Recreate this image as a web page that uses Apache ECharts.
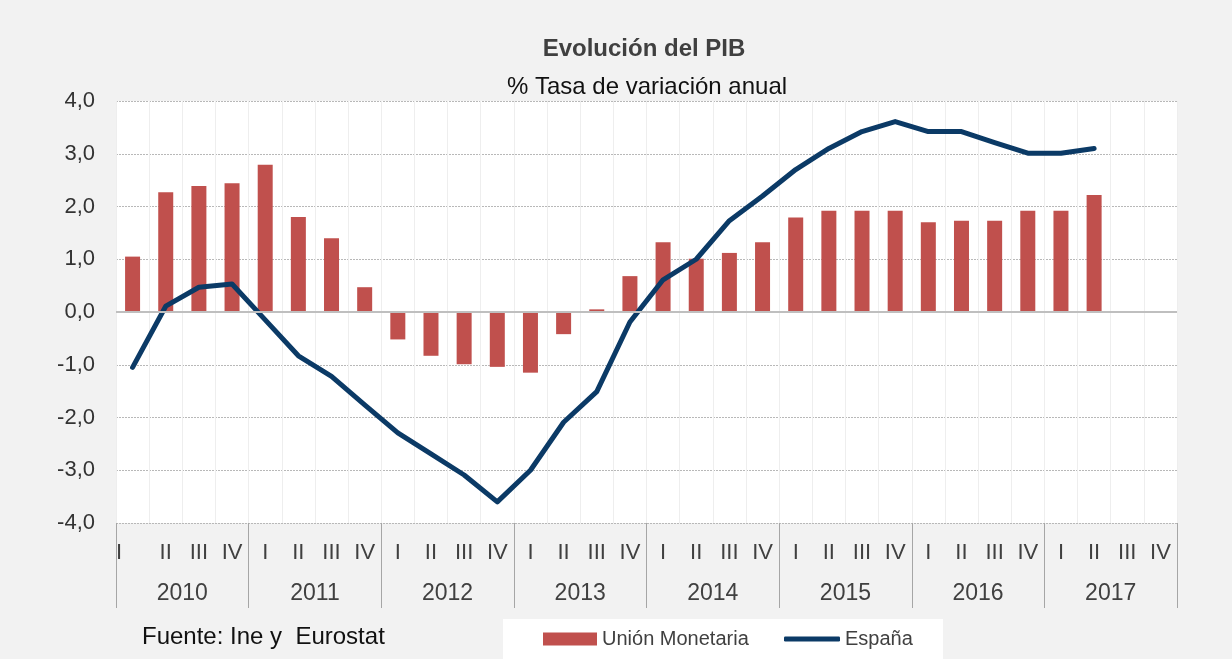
<!DOCTYPE html>
<html>
<head>
<meta charset="utf-8">
<script src="https://cdn.jsdelivr.net/npm/echarts@6/dist/echarts.min.js"></script>
<style>
html,body{margin:0;padding:0;background:#f2f2f2;}
#chart{width:1232px;height:659px;}
</style>
</head>
<body>
<div id="chart"></div>
<script>
// ---- data ----
const years = ['2010', '2011', '2012', '2013', '2014', '2015', '2016', '2017'];
const quarterLabels = ['I', 'II', 'III', 'IV'];
const yTicks = { min: -4, max: 4, interval: 1 };
const unionMonetaria = [
  1.05, 2.27, 2.39, 2.44,
  2.79, 1.80, 1.40, 0.47,
  -0.52, -0.83, -0.99, -1.04,
  -1.15, -0.42, 0.05, 0.68,
  1.32, 1.01, 1.12, 1.32,
  1.79, 1.92, 1.92, 1.92,
  1.70, 1.73, 1.73, 1.92,
  1.92, 2.22, null, null
];
const espana = [
  -1.05, 0.11, 0.47, 0.53,
  -0.15, -0.83, -1.22, -1.76,
  -2.29, -2.69, -3.09, -3.60,
  -3.00, -2.09, -1.51, -0.19,
  0.61, 1.00, 1.73, 2.20,
  2.70, 3.10, 3.42, 3.61,
  3.42, 3.42, 3.21, 3.01,
  3.01, 3.10, null, null
];
const titleText = 'Evolución del PIB';
const subtitleText = '% Tasa de variación anual';
const sourceText = 'Fuente: Ine y  Eurostat';

const categories = years.flatMap(y => quarterLabels.map(q => y + ' ' + q));

const FONT = '"Liberation Sans", Arial, Helvetica, sans-serif';
const LINE_COLOR = '#0b3a66';
const BAR_COLOR = '#c0504d';
const chart = echarts.init(document.getElementById('chart'), null, { renderer: 'canvas' });

const option = {
  backgroundColor: '#f2f2f2',
  animation: false,
  textStyle: { fontFamily: FONT },
  grid: {
    left: 116, top: 101, right: 55, bottom: 136,
    show: true, backgroundColor: '#ffffff', borderWidth: 0
  },
  graphic: [
    { type: 'rect', z: 0, shape: { x: 503, y: 619, width: 440, height: 40 }, style: { fill: '#ffffff' } },
    { type: 'text', z: 10, style: { text: titleText, x: 644, y: 49, textAlign: 'center', textVerticalAlign: 'middle',
        fontFamily: FONT, fontSize: 24, fontWeight: 'bold', fill: '#404040' } },
    { type: 'text', z: 10, style: { text: subtitleText, x: 647, y: 87, textAlign: 'center', textVerticalAlign: 'middle',
        fontFamily: FONT, fontSize: 24, fill: '#111111' } },
    { type: 'text', z: 10, style: { text: sourceText, x: 142, y: 637, textAlign: 'left', textVerticalAlign: 'middle',
        fontFamily: FONT, fontSize: 24, fill: '#111111' } }
  ],
  legend: [
    {
      data: [{ name: 'Unión Monetaria', icon: 'rect' }],
      left: 543, top: 629, padding: 0, z: 5,
      itemWidth: 54, itemHeight: 13,
      textStyle: { fontFamily: FONT, fontSize: 20, color: '#404040' }
    },
    {
      data: [{ name: 'España', icon: 'roundRect', itemStyle: { color: LINE_COLOR } }],
      left: 784, top: 629, padding: 0, z: 5,
      itemWidth: 56, itemHeight: 5,
      textStyle: { fontFamily: FONT, fontSize: 20, color: '#404040' }
    }
  ],
  xAxis: [
    {
      type: 'category',
      data: categories,
      position: 'bottom',
      boundaryGap: true,
      axisLine: { show: false, onZero: false },
      axisTick: { show: false },
      axisLabel: {
        interval: 0, margin: 19, fontSize: 22, color: '#404040', fontFamily: FONT,
        formatter: function (v, i) {
          const q = v.split(' ')[1];
          return i === 0 ? '{first|' + q + '}' : q;
        },
        rich: { first: { fontSize: 22, color: '#404040', fontFamily: FONT, padding: [0, 27, 0, 0] } }
      },
      splitLine: { show: true, interval: 0, lineStyle: { color: '#eeeeee', width: 1 } }
    },
    {
      type: 'category',
      data: years,
      position: 'bottom',
      boundaryGap: true,
      axisLine: { show: false, onZero: false },
      axisTick: { show: true, interval: 0, length: 85, lineStyle: { color: '#a6a6a6', width: 1 } },
      axisLabel: { interval: 0, margin: 59, fontSize: 23, color: '#404040', fontFamily: FONT },
      splitLine: { show: false }
    }
  ],
  yAxis: {
    type: 'value',
    min: yTicks.min, max: yTicks.max, interval: yTicks.interval,
    axisLine: { show: false },
    axisTick: { show: false },
    axisLabel: {
      margin: 21, fontSize: 22, color: '#333333', fontFamily: FONT,
      formatter: v => v.toFixed(1).replace('.', ',')
    },
    splitLine: { show: true, lineStyle: { color: '#b8b8b8', width: 1, type: [2, 1] } }
  },
  series: [
    {
      name: 'Unión Monetaria',
      type: 'bar',
      xAxisIndex: 0,
      data: unionMonetaria,
      barWidth: 15,
      itemStyle: { color: BAR_COLOR },
      markLine: {
        silent: true, symbol: 'none', label: { show: false },
        lineStyle: { color: '#bfbfbf', width: 2, type: 'solid' },
        data: [{ yAxis: 0 }]
      }
    },
    {
      name: 'España',
      type: 'line',
      xAxisIndex: 0,
      data: espana,
      symbol: 'none',
      showSymbol: false,
      lineStyle: { color: LINE_COLOR, width: 5, cap: 'round', join: 'round' },
      itemStyle: { color: LINE_COLOR },
      z: 3
    }
  ]
};
chart.setOption(option);
</script>
</body>
</html>
